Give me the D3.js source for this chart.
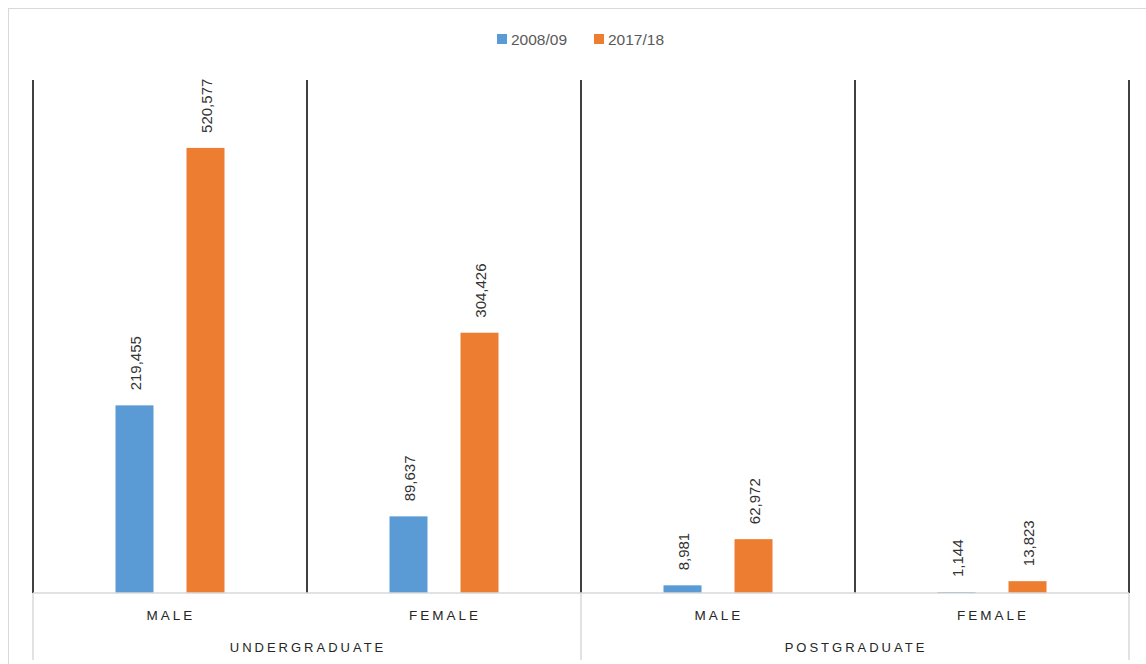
<!DOCTYPE html>
<html>
<head>
<meta charset="utf-8">
<script src="https://cdn.jsdelivr.net/npm/d3@7"></script>
<style>
  body { margin: 0; background: #fff; }
  svg { display: block; }
</style>
</head>
<body>
<svg width="1146" height="664"></svg>
<script>
var groups = ["UNDERGRADUATE", "POSTGRADUATE"];
var genders = ["MALE", "FEMALE"];
var seriesNames = ["2008/09", "2017/18"];
var values0809 = [219455, 89637, 8981, 1144];
var values1718 = [520577, 304426, 62972, 13823];
var colors = ["#5b9bd5", "#ed7d31"];

const plotLeft = 33, plotRight = 1129, plotTop = 80, base = 593;

window.onload = function() {
  var svg = d3.select("svg");

  // categories as group|gender
  var cats = [];
  groups.forEach(function(g){ genders.forEach(function(s){ cats.push(g + "|" + s); }); });

  var x = d3.scaleBand().domain(cats).range([plotLeft, plotRight]).padding(0);
  var sub = d3.scaleBand().domain(seriesNames).range([-54.5, 54.5]).paddingInner(0.465).paddingOuter(0);
  var y = d3.scaleLinear().domain([0, 600000]).range([base, plotTop]);

  // chart border
  svg.append("rect")
    .attr("x", 8.5).attr("y", 8.5)
    .attr("width", 1200).attr("height", 700)
    .attr("fill", "none").attr("stroke", "#d9d9d9");

  // legend
  var legend = svg.append("g");
  var lx = [497, 594];
  seriesNames.forEach(function(n, i){
    legend.append("rect").attr("x", lx[i]).attr("y", 34).attr("width", 10).attr("height", 10).attr("fill", colors[i]);
    legend.append("text").attr("x", lx[i] + 14).attr("y", 44.5)
      .attr("font-family", "Liberation Sans, Arial, sans-serif")
      .attr("font-size", 15.5).attr("fill", "#595959").text(n);
  });

  // black separators between categories
  var bounds = cats.map(function(c){ return x(c); }).concat([plotRight]);
  svg.selectAll("line.sep").data(bounds).enter().append("line")
    .attr("x1", function(d){ return d; }).attr("x2", function(d){ return d; })
    .attr("y1", plotTop).attr("y2", base)
    .attr("stroke", "#000").attr("stroke-width", 1.5);

  // bars
  var rows = cats.map(function(c, i){ return [values0809[i], values1718[i]]; });
  var data = [];
  rows.forEach(function(r, i){
    r.forEach(function(v, j){ data.push({cat: cats[i], s: seriesNames[j], v: v, j: j}); });
  });
  function cx(d){ return x(d.cat) + x.bandwidth() / 2 + sub(d.s) + sub.bandwidth() / 2; }

  svg.selectAll("rect.bar").data(data).enter().append("rect")
    .attr("class", "bar")
    .attr("x", function(d){ return cx(d) - sub.bandwidth() / 2; })
    .attr("y", function(d){ return y(d.v); })
    .attr("width", sub.bandwidth())
    .attr("height", function(d){ return base - y(d.v); })
    .attr("fill", function(d){ return colors[d.j]; });

  // data labels
  svg.selectAll("text.lbl").data(data).enter().append("text")
    .attr("transform", function(d){ return "translate(" + (cx(d) + 1) + "," + (y(d.v) - 15) + ") rotate(-90)"; })
    .attr("dy", "0.35em")
    .attr("font-family", "Liberation Sans Narrow, Arial Narrow, Liberation Sans, sans-serif")
    .attr("font-size", 15).attr("fill", "#333")
    .text(function(d){ return d3.format(",")(d.v); });

  // axis lines
  svg.append("line").attr("x1", plotLeft).attr("x2", plotRight).attr("y1", base).attr("y2", base)
    .attr("stroke", "#d9d9d9").attr("stroke-width", 1.5);
  var gx = [plotLeft, x(groups[1] + "|" + genders[0]), plotRight];
  svg.selectAll("line.gsep").data(gx).enter().append("line")
    .attr("x1", function(d){ return d; }).attr("x2", function(d){ return d; })
    .attr("y1", base).attr("y2", 660)
    .attr("stroke", "#d9d9d9").attr("stroke-width", 1.5);

  // category labels
  svg.selectAll("text.cat").data(cats).enter().append("text")
    .attr("x", function(c){ return x(c) + x.bandwidth() / 2 + 1; })
    .attr("y", 620)
    .attr("text-anchor", "middle")
    .attr("font-family", "Liberation Sans, Arial, sans-serif")
    .attr("font-size", 13.5).attr("letter-spacing", "3px").attr("fill", "#262626")
    .text(function(c){ return c.split("|")[1]; });

  svg.selectAll("text.grp").data(groups).enter().append("text")
    .attr("x", function(g, i){ return (gx[i] + gx[i + 1]) / 2 + 1; })
    .attr("y", 652)
    .attr("text-anchor", "middle")
    .attr("font-family", "Liberation Sans, Arial, sans-serif")
    .attr("font-size", 13).attr("letter-spacing", "3px").attr("fill", "#262626")
    .text(function(g){ return g; });
};
</script>
</body>
</html>
